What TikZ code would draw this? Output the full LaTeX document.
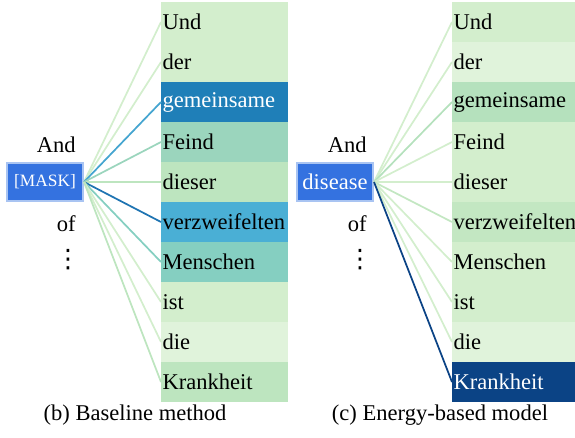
\documentclass[tikz,border=0pt]{standalone}
\usepackage{fontspec}
\setmainfont{Liberation Serif}
\newfontfamily\dotsfont{DejaVu Sans}
\usetikzlibrary{positioning}

\definecolor{paleA}{HTML}{E0F3DB}
\definecolor{paleB}{HTML}{D3EECD}
\definecolor{paleC}{HTML}{BDE5BF}
\definecolor{paleD}{HTML}{B5E1BD}
\definecolor{paleE}{HTML}{C3E7C2}
\definecolor{midG}{HTML}{9BD5BD}
\definecolor{midT}{HTML}{85CFC1}
\definecolor{skyB}{HTML}{4AAFD5}
\definecolor{deepB}{HTML}{1F7FB8}
\definecolor{lineB}{HTML}{45A5D0}
\definecolor{lineD}{HTML}{1F74B2}
\definecolor{navyB}{HTML}{0B4385}
\definecolor{maskB}{HTML}{3472E0}
\definecolor{glowB}{HTML}{A9C4F2}

\begin{document}
\begin{tikzpicture}[x=0.75pt,y=0.75pt,yscale=-1,xscale=1,
  cell/.style={anchor=west, minimum height=30pt, text width=93.25pt, inner xsep=1pt, inner ysep=0pt, align=left, font=\fontsize{16.9}{18}\selectfont},
  word/.style={inner sep=0.75pt, font=\fontsize{16.9}{18}\selectfont},
  maskbox/.style={fill=maskB, draw=glowB, line width=1.5pt, text=white, minimum width=57pt, minimum height=29pt, inner sep=0pt},
  link/.style={line width=1.3pt}]
\useasboundingbox (0,0) rectangle (575,438);

%Shape: highlighted token, baseline
\node [maskbox, font=\fontsize{13}{15}\selectfont] (mask) at (45,182) {[MASK]};
%Shape: highlighted token, energy-based
\node [maskbox, font=\fontsize{16.9}{18}\selectfont] (dis) at (335,182) {disease};

% Text Node
\node [word, anchor=east] (andb) at (77,145) {And};
\node [word, anchor=east] (ofb) at (77,224) {of};
\node [word, font=\dotsfont\fontsize{19}{20}\selectfont] (dotsb) at (68,260) {⋮};
\node [word, anchor=east] (andc) at (368,145) {And};
\node [word, anchor=east] (ofc) at (368,224) {of};
\node [word, font=\dotsfont\fontsize{19}{20}\selectfont] (dotsc) at (360,260) {⋮};

%Column: baseline method
\foreach \w/\c/\t/\l [count=\i] in {Und/paleB/black/paleB, der/paleB/black/paleB, gemeinsame/deepB/white/lineB, Feind/midG/black/midG, dieser/paleC/black/paleC, verzweifelten/skyB/black/lineD, Menschen/midT/black/midT, ist/paleB/black/paleB, die/paleA/black/paleB, Krankheit/paleC/black/paleC}{
  \node [cell, fill=\c, text=\t] (b\i) at (161,{22+40*(\i-1)}) {\w};
  \draw [link, draw=\l] (mask.east) -- (b\i.west);
}

%Column: energy-based model
\foreach \w/\c/\t/\l [count=\i] in {Und/paleB/black/paleB, der/paleA/black/paleB, gemeinsame/paleD/black/paleD, Feind/paleB/black/paleB, dieser/paleB/black/paleB, verzweifelten/paleE/black/paleE, Menschen/paleB/black/paleB, ist/paleB/black/paleB, die/paleA/black/paleB, Krankheit/navyB/white/navyB}{
  \node [cell, fill=\c, text=\t] (c\i) at (452,{22+40*(\i-1)}) {\w};
  \draw [link, draw=\l] (dis.east) -- (c\i.west);
}

% Text Node
\node [word] (capb) at (135,415) {(b) Baseline method};
\node [word] (capc) at (440,415) {(c) Energy-based model};

\end{tikzpicture}
\end{document}
